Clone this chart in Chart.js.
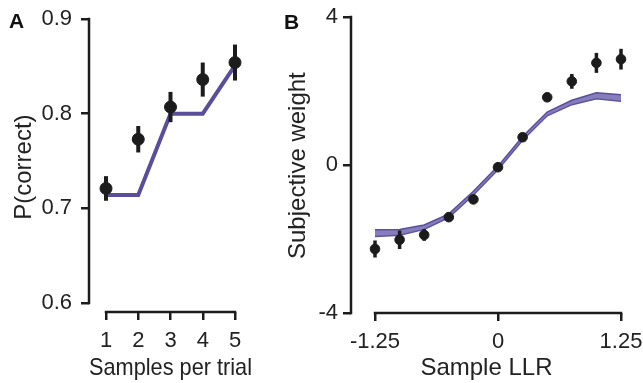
<!DOCTYPE html>
<html lang="en">
<head>
  <meta charset="UTF-8" />
  <title>Samples per trial / Sample LLR</title>
  <script src="https://cdn.jsdelivr.net/npm/chart.js"></script>
  <style>
    body {
      margin: 0;
      background: #fff;
      font-family: 'Liberation Sans', Arial, sans-serif;
    }
    .wrap {
      position: relative;
      width: 643px;
      height: 383px;
    }
    .panel {
      position: absolute;
      top: 0;
      height: 383px;
    }
    #panelA { left: 0; width: 270px; }
    #panelB { left: 270px; width: 373px; }
    .letter {
      position: absolute;
      font-weight: bold;
      font-size: 21px;
      color: #111;
    }
  </style>
</head>
<body>
  <div class="wrap">
    <div class="panel" id="panelA"><canvas id="chartA"></canvas></div>
    <div class="panel" id="panelB"><canvas id="chartB"></canvas></div>
    <div class="letter" style="left:9px; top:9px;">A</div>
    <div class="letter" style="left:284px; top:10px;">B</div>
  </div>

  <script>
    // Panel A data
    const samplesPerTrial = [1, 2, 3, 4, 5];
    const pCorrectData = [0.721, 0.773, 0.807, 0.836, 0.854];
    const pCorrectErr = [0.013, 0.014, 0.016, 0.018, 0.019];
    const pCorrectModel = [0.714, 0.714, 0.800, 0.800, 0.851];
    const ticksAX = [1, 2, 3, 4, 5];
    const ticksAY = [0.6, 0.7, 0.8, 0.9];

    // Panel B data
    const sampleLLR = [-1.25, -1, -0.75, -0.5, -0.25, 0, 0.25, 0.5, 0.75, 1, 1.25];
    const weightData = [-2.27, -2.02, -1.89, -1.41, -0.93, -0.06, 0.75, 1.83, 2.26, 2.76, 2.86];
    const weightErr = [0.23, 0.25, 0.16, 0.1, 0.08, 0.06, 0.06, 0.1, 0.2, 0.27, 0.28];
    const weightModel = [-1.84, -1.82, -1.68, -1.37, -0.76, -0.08, 0.72, 1.38, 1.69, 1.87, 1.81];
    const weightModelHalf = [0.09, 0.08, 0.06, 0.05, 0.05, 0.05, 0.05, 0.05, 0.06, 0.08, 0.09];
    const ticksBX = [-1.25, 0, 1.25];
    const ticksBY = [-4, 0, 4];

    const ink = '#1c1c1c';
    const purple = '#5a4e9b';
    const tickFont = { family: "'Liberation Sans', Arial, sans-serif", size: 22 };
    const titleFont = { family: "'Liberation Sans', Arial, sans-serif", size: 24 };

    // pin the first/last tick of each axis to a fixed canvas pixel
    // (the axes in the figure are offset from the plot box)
    const anchor = {
      id: 'anchor',
      afterLayout(chart, args, opts) {
        const xs = chart.scales.x, ys = chart.scales.y;
        const kx = (opts.x[3] - opts.x[1]) / (opts.x[2] - opts.x[0]);
        xs.min = opts.x[0] - (opts.x[1] - xs.left) / kx;
        xs.max = opts.x[2] + (xs.right - opts.x[3]) / kx;
        const ky = (opts.y[1] - opts.y[3]) / (opts.y[2] - opts.y[0]);
        ys.min = opts.y[0] - (ys.bottom - opts.y[1]) / ky;
        ys.max = opts.y[2] + (opts.y[3] - ys.top) / ky;
        xs.configure();
        ys.configure();
      }
    };

    // spines that run only from first to last tick
    const spines = {
      id: 'spines',
      afterDraw(chart) {
        const { ctx, chartArea, scales } = chart;
        const xs = scales.x, ys = scales.y;
        const xt = xs.ticks.map(t => t.value);
        const yt = ys.ticks.map(t => t.value);
        ctx.save();
        ctx.strokeStyle = ink;
        ctx.lineWidth = 2.5;
        ctx.lineCap = 'square';
        ctx.beginPath();
        ctx.moveTo(chartArea.left, ys.getPixelForValue(yt[0]));
        ctx.lineTo(chartArea.left, ys.getPixelForValue(yt[yt.length - 1]));
        ctx.moveTo(xs.getPixelForValue(xt[0]), chartArea.bottom);
        ctx.lineTo(xs.getPixelForValue(xt[xt.length - 1]), chartArea.bottom);
        ctx.stroke();
        ctx.restore();
      }
    };

    // vertical error bars
    const errorBars = {
      id: 'errorBars',
      afterDatasetsDraw(chart, args, opts) {
        const { ctx, scales } = chart;
        ctx.save();
        ctx.strokeStyle = ink;
        ctx.lineWidth = opts.width;
        opts.x.forEach((x, i) => {
          const px = scales.x.getPixelForValue(x);
          ctx.beginPath();
          ctx.moveTo(px, scales.y.getPixelForValue(opts.y[i] - opts.err[i]));
          ctx.lineTo(px, scales.y.getPixelForValue(opts.y[i] + opts.err[i]));
          ctx.stroke();
        });
        ctx.restore();
      }
    };

    function axis(min, max, ticks, fmt, o) {
      return {
        type: 'linear',
        min: min,
        max: max,
        afterBuildTicks: s => { s.ticks = ticks.map(v => ({ value: v })); },
        afterFit: s => { if (o.w) s.width = o.w; if (o.h) s.height = o.h; },
        border: { display: false },
        grid: { drawOnChartArea: false, drawTicks: true, tickLength: 8, color: ink, lineWidth: 2.5 },
        ticks: { color: '#222', font: tickFont, padding: o.pad, callback: fmt, maxRotation: 0, autoSkip: false },
        title: { display: true, text: o.title, color: '#222', font: titleFont, padding: o.tpad }
      };
    }

    new Chart(document.getElementById('chartA'), {
      type: 'scatter',
      data: {
        datasets: [
          {
            data: samplesPerTrial.map((x, i) => ({ x: x, y: pCorrectData[i] })),
            backgroundColor: ink,
            borderColor: ink,
            pointRadius: 6,
            order: 0
          },
          {
            data: samplesPerTrial.map((x, i) => ({ x: x, y: pCorrectModel[i] })),
            showLine: true,
            borderColor: purple,
            borderWidth: 4,
            pointRadius: 0,
            order: 1
          }
        ]
      },
      options: {
        responsive: true,
        maintainAspectRatio: false,
        animation: false,
        clip: false,
        layout: { padding: { top: 19, right: 18, left: 0, bottom: 0 } },
        plugins: {
          legend: { display: false },
          tooltip: { enabled: false },
          anchor: { x: [1, 106, 5, 235], y: [0.6, 303, 0.9, 19] },
          errorBars: { x: samplesPerTrial, y: pCorrectData, err: pCorrectErr, width: 4 }
        },
        scales: {
          x: axis(0.4729, 5.527, ticksAX, v => String(v),
            { h: 71, pad: 8, title: 'Samples per trial', tpad: { top: 0, bottom: 0 } }),
          y: axis(0.5905, 0.9, ticksAY, v => v.toFixed(1),
            { w: 89, pad: 9, title: 'P(correct)', tpad: { top: 10, bottom: 0 } })
        }
      },
      plugins: [anchor, spines, errorBars]
    });

    new Chart(document.getElementById('chartB'), {
      type: 'scatter',
      data: {
        datasets: [
          {
            data: sampleLLR.map((x, i) => ({ x: x, y: weightData[i] })),
            backgroundColor: ink,
            borderColor: ink,
            pointRadius: 4.8,
            order: 0
          },
          {
            data: sampleLLR.map((x, i) => ({ x: x, y: weightModel[i] + weightModelHalf[i] })),
            showLine: true,
            borderColor: purple,
            borderWidth: 1.5,
            pointRadius: 0,
            fill: '+1',
            backgroundColor: 'rgba(104, 92, 170, 0.8)',
            order: 1
          },
          {
            data: sampleLLR.map((x, i) => ({ x: x, y: weightModel[i] - weightModelHalf[i] })),
            showLine: true,
            borderColor: purple,
            borderWidth: 1.5,
            pointRadius: 0,
            order: 2
          }
        ]
      },
      options: {
        responsive: true,
        maintainAspectRatio: false,
        animation: false,
        clip: false,
        layout: { padding: { top: 17, right: 13, left: 0, bottom: 0 } },
        plugins: {
          legend: { display: false },
          tooltip: { enabled: false },
          anchor: { x: [-1.25, 105, 1.25, 351], y: [-4, 313, 4, 17] },
          errorBars: { x: sampleLLR, y: weightData, err: weightErr, width: 3.5 }
        },
        scales: {
          x: axis(-1.4939, 1.3415, ticksBX, v => String(v),
            { h: 70, pad: 8, title: 'Sample LLR', tpad: { top: 0, bottom: 0 } }),
          y: axis(-4, 4, ticksBY, v => String(v),
            { w: 81, pad: 5, title: 'Subjective weight', tpad: { top: 14, bottom: 0 } })
        }
      },
      plugins: [anchor, spines, errorBars]
    });
  </script>
</body>
</html>
